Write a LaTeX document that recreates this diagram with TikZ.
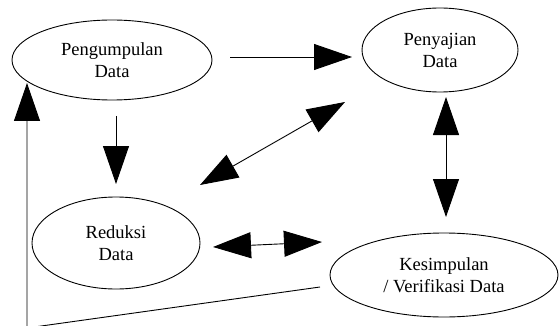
\documentclass[tikz,border=0pt]{standalone}
\usepackage{fontspec}
\setmainfont{Liberation Serif}
\usetikzlibrary{shapes.geometric, arrows.meta}
\tikzset{
    stage/.style={
        ellipse,
        draw,
        line width=0.9pt,
        inner sep=0pt,
        align=center,
        font=\fontsize{18.5}{22}\selectfont
    },
    flow/.style={
        -{Triangle[length=38pt,width=26pt]},
        line width=0.9pt
    },
    twoway/.style={
        {Triangle[length=38pt,width=26pt]}-{Triangle[length=38pt,width=26pt]},
        line width=0.9pt
    }
}

\begin{document}
\begin{tikzpicture}[x=1pt, y=-1pt]
    \useasboundingbox (0,0) rectangle (559,326);

    \node[stage, minimum width=200pt, minimum height=80pt] (kumpul) at (112,60) {Pengumpulan\\Data};
    \node[stage, minimum width=156pt, minimum height=84pt] (saji) at (440,50) {Penyajian\\Data};
    \node[stage, minimum width=168pt, minimum height=92pt] (reduksi) at (116,243) {Reduksi\\Data};
    \node[stage, minimum width=228pt, minimum height=84pt] (simpul) at (444,275) {Kesimpulan\\/ Verifikasi Data};

    % ujung-ujung panah
    \coordinate (k1) at (230,57);
    \coordinate (s1) at (352,57);
    \coordinate (k2) at (116,116);
    \coordinate (r2) at (116,184);
    \coordinate (r3) at (200,185);
    \coordinate (s3) at (345,102);
    \coordinate (s4) at (446,97);
    \coordinate (v4) at (446,217);
    \coordinate (r5) at (213,247);
    \coordinate (v5) at (322,242);
    \coordinate (v6) at (320,287);
    \coordinate (sudut) at (27,328);
    \coordinate (k6) at (27,83);

    \draw[flow] (k1) -- (s1);
    \draw[flow] (k2) -- (r2);
    \draw[twoway] (r3) -- (s3);
    \draw[twoway] (s4) -- (v4);
    \draw[twoway] (r5) -- (v5);
    \draw[flow] (v6) -- (sudut) -- (k6);
\end{tikzpicture}
\end{document}
